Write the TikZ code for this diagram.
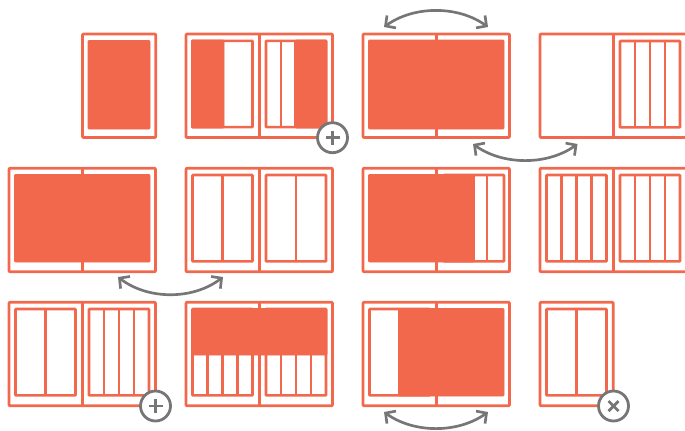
\documentclass[tikz,border=0pt]{standalone}
\usetikzlibrary{arrows.meta,calc}
\definecolor{coral}{HTML}{F2684D}
\definecolor{slategray}{HTML}{767676}
\tikzset{
  pageline/.style={draw=coral,line width=2pt,rounded corners=0.6pt,line join=round},
  gridline/.style={draw=coral,line width=1.9pt,rounded corners=0.5pt},
  block/.style={fill=coral,draw=coral,line width=0.7pt,rounded corners=0.8pt},
  swaparrow/.style={draw=slategray,line width=2pt,{Straight Barb[length=5.5pt,width=11.5pt,line width=2pt]}-{Straight Barb[length=5.5pt,width=11.5pt,line width=2pt]}},
  badge/.style={circle,draw=slategray,fill=white,line width=2.1pt,minimum size=22.5pt,inner sep=0pt},
  glyph/.style={draw=slategray,line width=2.1pt},
}
\newcommand\spreadbox[2]{\draw[pageline] (#1,#2) rectangle ++(146.5,103.5);
  \draw[pageline] (#1+73.25,#2) -- ++(0,103.5);}
\newcommand\pagebox[2]{\draw[pageline] (#1,#2) rectangle ++(73.25,103.5);}
\newcommand\gridcols[3]{\draw[gridline] (#1,#2) rectangle ++(60,86.4);
  \foreach \dv in {#3} {\draw[gridline] (#1+\dv,#2) -- ++(0,86.4);}}
\begin{document}
\begin{tikzpicture}[x=0.75pt,y=-0.75pt]
\useasboundingbox (0,0) rectangle (685,430);

% --- row 1
\pagebox{82.5}{34}
\draw[block] (88,40.5) rectangle (150,129);

\spreadbox{186}{34}
\gridcols{192.5}{40.8}{30}
\draw[block] (191.5,40) rectangle (224,128);
\gridcols{266}{40.8}{15,29.5}
\draw[block] (295.5,40) rectangle (327,128);

\spreadbox{363}{34}
\draw[block] (368.5,40) rectangle (504,129);

\spreadbox{540}{34}
\gridcols{620}{41}{15,30,45}

% --- row 2
\spreadbox{9}{168.3}
\draw[block] (14.5,174.5) rectangle (150,262);

\spreadbox{186}{168.3}
\gridcols{192.5}{175}{30}
\gridcols{266}{175}{30}

\spreadbox{363}{168.3}
\gridcols{444}{175}{30,43}
\draw[block] (368.5,174.5) rectangle (474,262);

\spreadbox{540}{168.3}
\gridcols{546.5}{175}{15,30,45}
\gridcols{620}{175}{15,30,45}

% --- row 3
\spreadbox{9}{302.3}
\gridcols{15.5}{309}{30}
\gridcols{89}{309}{15,30,45}

\spreadbox{186}{302.3}
\gridcols{192.5}{309}{15,30,45}
\gridcols{266}{309}{15,30,45}
\draw[block] (191.5,308.5) rectangle (327,355);

\spreadbox{363}{302.3}
\gridcols{369.5}{309}{30}
\draw[block] (398.5,308.5) rectangle (504,396);

\pagebox{540}{302.3}
\gridcols{546.5}{309}{30}

% --- swap arrows
\coordinate (a1) at (384,27);   \coordinate (b1) at (488,27);
\coordinate (a2) at (473,144);  \coordinate (b2) at (577.5,144);
\coordinate (a3) at (118,277);  \coordinate (b3) at (223,277);
\coordinate (a4) at (384,412);  \coordinate (b4) at (488,412);
\draw[swaparrow] (a1) .. controls ($(a1)+(30,-21.5)$) and ($(b1)+(-30,-21.5)$) .. (b1);
\draw[swaparrow] (a2) .. controls ($(a2)+(30,21.5)$) and ($(b2)+(-30,21.5)$) .. (b2);
\draw[swaparrow] (a3) .. controls ($(a3)+(30,23)$) and ($(b3)+(-30,23)$) .. (b3);
\draw[swaparrow] (a4) .. controls ($(a4)+(30,21.5)$) and ($(b4)+(-30,21.5)$) .. (b4);

% --- badges
\node[badge] (plusA) at (332.5,137.7) {};
\draw[glyph] ($(plusA)+(-7,0)$) -- ($(plusA)+(7,0)$);
\draw[glyph] ($(plusA)+(0,-7)$) -- ($(plusA)+(0,7)$);
\node[badge] (plusB) at (155.5,406) {};
\draw[glyph] ($(plusB)+(-7,0)$) -- ($(plusB)+(7,0)$);
\draw[glyph] ($(plusB)+(0,-7)$) -- ($(plusB)+(0,7)$);
\node[badge] (cross) at (613.5,406) {};
\draw[glyph] ($(cross)+(-5,-5)$) -- ($(cross)+(5,5)$);
\draw[glyph] ($(cross)+(-5,5)$) -- ($(cross)+(5,-5)$);
\end{tikzpicture}
\end{document}
